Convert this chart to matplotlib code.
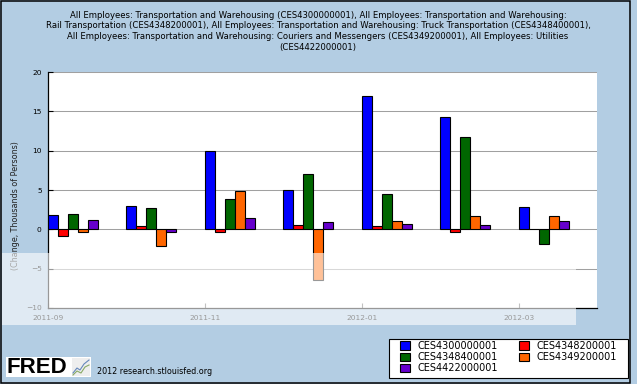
import matplotlib
matplotlib.use("Agg")
import matplotlib.pyplot as plt
from matplotlib.patches import Rectangle, Patch
from matplotlib.lines import Line2D
import numpy as np

# ---- data ----
months = ['2011-09', '2011-10', '2011-11', '2011-12', '2012-01', '2012-02', '2012-03']
tick_labels = ['2011-09', '2011-11', '2012-01', '2012-03']
series_names = ['CES4300000001', 'CES4348200001', 'CES4348400001', 'CES4349200001', 'CES4422000001']
ces4300000001 = [1.8, 3.0, 10.0, 5.0, 17.0, 14.3, 2.8]
ces4348200001 = [-0.9, 0.45, -0.4, 0.5, 0.4, -0.3, 0.0]
ces4348400001 = [1.9, 2.7, 3.9, 7.0, 4.5, 11.7, -1.9]
ces4349200001 = [-0.3, -2.1, 4.9, -6.5, 1.0, 1.7, 1.7]
ces4422000001 = [1.2, -0.4, 1.4, 0.9, 0.7, 0.5, 1.1]
series_values = [ces4300000001, ces4348200001, ces4348400001, ces4349200001, ces4422000001]
colors = ['#0000FF', '#FF0000', '#006600', '#FF6600', '#6600CC']

title_lines = [
    "All Employees: Transportation and Warehousing (CES4300000001), All Employees: Transportation and Warehousing:",
    "Rail Transportation (CES4348200001), All Employees: Transportation and Warehousing: Truck Transportation (CES4348400001),",
    "All Employees: Transportation and Warehousing: Couriers and Messengers (CES4349200001), All Employees: Utilities",
    "(CES4422000001)",
]

W, H = 637, 384
BG = '#B3CDE3'

def fx(px):
    return px / W

def fy(py):
    return 1 - py / H

fig = plt.figure(figsize=(W / 100, H / 100), dpi=100, facecolor=BG)

ax = fig.add_axes([fx(48), fy(308), fx(597) - fx(48), fy(72) - fy(308)])
ax.set_facecolor('white')

x = np.arange(len(months))
bw = 10 / 78.4
for j, (vals, c, name) in enumerate(zip(series_values, colors, series_names)):
    ax.bar(x + j * bw, vals, width=bw, align='edge', color=c,
           edgecolor='black', linewidth=0.8, zorder=3, label=name)

ax.set_xlim(0, 7)
ax.set_ylim(-10, 20)
ax.set_yticks([-10, -5, 0, 5, 10, 15, 20])
ax.set_xticks([0, 2, 4, 6])
ax.set_xticklabels(tick_labels)
ax.yaxis.grid(True, color='#A0A0A0', linewidth=0.75, zorder=0)
ax.set_axisbelow(True)
for s in ['top', 'right']:
    ax.spines[s].set_visible(False)
for s in ['left', 'bottom']:
    ax.spines[s].set_color('black')
    ax.spines[s].set_linewidth(0.9)
ax.tick_params(axis='y', direction='in', length=3.6, width=0.8, color='black',
               labelsize=5.4, pad=4.5, labelcolor='black')
ax.tick_params(axis='x', direction='in', length=3.6, width=0.8, color='#666666',
               labelsize=5.4, pad=5.0, labelcolor='black')

# y label
fig.text(fx(15), fy(206), '(Change, Thousands of Persons)', rotation=90,
         ha='center', va='center', fontsize=5.8, color='#222222')

# title
for i, line in enumerate(title_lines):
    fig.text(fx(318), fy(15 + i * 10.7), line, ha='center', va='center',
             fontsize=6.15, color='black')

# white translucent watermark band
fig.add_artist(Rectangle((fx(2), fy(325)), fx(576) - fx(2), fy(253) - fy(325),
                         transform=fig.transFigure, facecolor='white',
                         edgecolor='none', alpha=0.6, zorder=20))

# legend
handles = []
order = [0, 2, 4, 1, 3]
for k in order:
    handles.append(Patch(facecolor=colors[k], edgecolor='black', linewidth=0.8,
                         label=series_names[k]))
fig.add_artist(Rectangle((fx(389), fy(378)), fx(628) - fx(389), fy(339) - fy(378),
                         transform=fig.transFigure, facecolor='white',
                         edgecolor='black', linewidth=0.8, zorder=25))
leg = fig.legend(handles=handles, ncol=2, loc='upper left',
                 bbox_to_anchor=(fx(400), fy(341)), frameon=False,
                 fontsize=7, borderpad=0, borderaxespad=0,
                 handlelength=1.0, handleheight=0.95, handletextpad=0.8,
                 labelspacing=0.12, columnspacing=2.2)
leg.set_zorder(30)

# FRED logo
fig.add_artist(Rectangle((fx(6), fy(377)), fx(91) - fx(6), fy(357) - fy(377),
                         transform=fig.transFigure, facecolor='white',
                         edgecolor='none', zorder=25))
fig.text(fx(7), fy(367.5), 'FRED', ha='left', va='center', fontsize=16,
         fontweight='heavy', family='Liberation Sans', color='black', zorder=30)
fig.add_artist(Rectangle((fx(72), fy(376)), fx(90) - fx(72), fy(358) - fy(376),
                         transform=fig.transFigure, facecolor='#EEEEEE',
                         edgecolor='none', zorder=26))
fig.add_artist(Line2D([fx(73), fx(77), fx(80), fx(84), fx(89)],
                      [fy(373), fy(368), fy(370), fy(364), fy(360)],
                      transform=fig.transFigure, color='#6688BB', lw=0.8, zorder=27))
fig.add_artist(Line2D([fx(73), fx(77), fx(81), fx(85), fx(89)],
                      [fy(375), fy(371), fy(373), fy(367), fy(365)],
                      transform=fig.transFigure, color='#88AA66', lw=0.8, zorder=27))
fig.text(fx(97), fy(372), '2012 research.stlouisfed.org', ha='left', va='center',
         fontsize=5.8, color='black', zorder=30)

# outer border
fig.add_artist(Rectangle((fx(0.7), fy(383.3)), fx(630) - fx(0.7), fy(0.7) - fy(383.3),
                         transform=fig.transFigure, fill=False,
                         edgecolor='black', linewidth=1.1, zorder=40))

fig.savefig('out.png', dpi=100, facecolor=BG)
